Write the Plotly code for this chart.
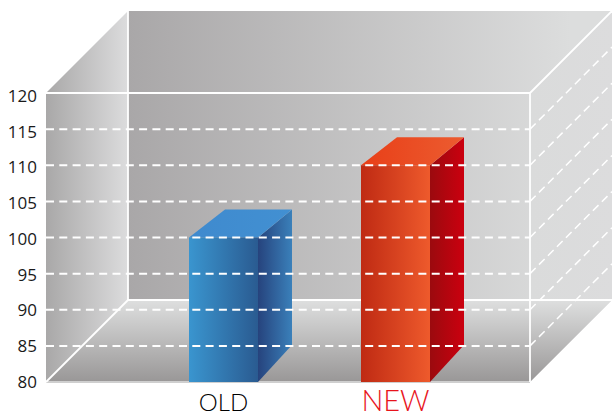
import plotly.graph_objects as go

# ---- chart data ----
CATEGORIES = ["OLD", "NEW"]
VALUES = [100, 110]
Y_TICKS = [80, 85, 90, 95, 100, 105, 110, 115, 120]
CATEGORY_COLORS = ["#000000", "#e8141c"]
CATEGORY_SIZES = [24, 29]

# ---- gradients per bar: front, side, top ----
FRONT_GRAD = [("#3a95cf", "#2a5b91"), ("#bf2a13", "#ee5a2c")]
SIDE_GRAD = [("#26437d", "#3a80ba"), ("#9b0a0e", "#cb000f")]
TOP_GRAD = [("#3f8ace", "#4290d2"), ("#e83f18", "#ec5c30")]

# ---- layout of the drawing (pixels in the 612x418 page) ----
W, H = 612, 418
L, R, T, B = 46, 530, 93, 382      # front frame
LABEL_T, LABEL_B = 96, 382         # where the y tick labels sit
DEPTH_X, DEPTH_Y = 82, 82          # room depth
BAR_W = 69
CAT_STEP = 172
CAT0 = 223.5
BAR_DX, BAR_DY_TOP, BAR_DY_FOOT, BAR_TOP_INSET = 34, 28, 37, 36
BACK_GRAD_STOP = 570

Y_MIN, Y_MAX = Y_TICKS[0], Y_TICKS[-1]
UX = 1 / CAT_STEP                  # axis units per pixel
UY = (Y_MAX - Y_MIN) / (B - T)

X0 = -(CAT0 - L) * UX
X1 = (R - CAT0) * UX
DX = DEPTH_X * UX
DY = DEPTH_Y * UY

# full-page ranges for the drawing axes (same scale as the frame axes)
PAGE_X = [-CAT0 * UX, (W - CAT0) * UX]
PAGE_Y = [Y_MIN - (H - B) * UY, Y_MAX + T * UY]

fig = go.Figure()


def poly(xs, ys, c0, c1, kind="horizontal", start=None, stop=None):
    g = dict(type=kind, colorscale=[[0, c0], [1, c1]])
    if start is not None:
        g["start"], g["stop"] = start, stop
    fig.add_trace(go.Scatter(
        x=list(xs) + [xs[0]], y=list(ys) + [ys[0]], mode="lines", fill="toself",
        fillgradient=g, line=dict(width=0),
        hoverinfo="skip", showlegend=False))


def line(xs, ys, color="#ffffff", width=1.8, dash="solid"):
    fig.add_trace(go.Scatter(
        x=xs, y=ys, mode="lines", line=dict(color=color, width=width, dash=dash),
        hoverinfo="skip", showlegend=False))


# back wall
poly([X0 + DX, X1 + DX, X1 + DX, X0 + DX],
     [Y_MIN + DY, Y_MIN + DY, Y_MAX + DY, Y_MAX + DY], "#a9a7a8", "#dcdddd",
     start=X0 + DX, stop=(BACK_GRAD_STOP - CAT0) * UX)
# left wall
poly([X0, X0 + DX, X0 + DX, X0], [Y_MAX, Y_MAX + DY, Y_MIN + DY, Y_MIN], "#a9a8a8", "#dcdcdd")
# right wall
poly([X1, X1 + DX, X1 + DX, X1], [Y_MAX, Y_MAX + DY, Y_MIN + DY, Y_MIN], "#dadbdb", "#dcdcdd")
# floor
poly([X0, X0 + DX, X1 + DX, X1], [Y_MIN, Y_MIN + DY, Y_MIN + DY, Y_MIN],
     "#999797", "#dedfdf", kind="vertical", start=Y_MIN, stop=Y_MIN + DY)

# room edges
line([X0, X1], [Y_MIN, Y_MIN], color="#cfcfcf")
line([X0, X0 + DX], [Y_MIN, Y_MIN + DY])
line([X0 + DX, X0 + DX], [Y_MIN + DY, Y_MAX + DY])
line([X0 + DX, X1 + DX], [Y_MIN + DY, Y_MIN + DY])
line([X0, X1], [Y_MAX, Y_MAX])
line([X1, X1], [Y_MAX, Y_MIN])
line([X1, X1 + DX], [Y_MAX, Y_MAX + DY])

# bars
for i, v in enumerate(VALUES):
    x0 = i - BAR_W / 2 * UX
    x1 = i + BAR_W / 2 * UX
    dx = BAR_DX * UX
    inset = BAR_TOP_INSET * UX
    top = v + BAR_DY_TOP * UY
    foot = Y_MIN + BAR_DY_FOOT * UY
    poly([x1, x1 + dx, x1 + dx, x1], [Y_MIN, foot, top, v], *SIDE_GRAD[i])
    poly([x0, x0 + inset, x1 + dx, x1], [v, top, top, v], *TOP_GRAD[i])
    poly([x0, x1, x1, x0], [Y_MIN, Y_MIN, v, v], *FRONT_GRAD[i])

# dashed grid lines across the front and up the right wall
for t in Y_TICKS[1:-1]:
    line([X0, X1], [t, t], width=2, dash="8px,5.3px")
    line([X1, X1 + DX], [t, t + DY], width=1.5, dash="8px,4.7px")

# invisible trace that carries the frame axes with the real tick labels
fig.add_trace(go.Scatter(x=[0, 1], y=VALUES, xaxis="x2", yaxis="y2", mode="markers",
                         marker=dict(opacity=0, size=1), hoverinfo="skip", showlegend=False))

ticktext = [
    f'<span style="color:{c};font-size:{s}px">{n}</span>'
    for n, c, s in zip(CATEGORIES, CATEGORY_COLORS, CATEGORY_SIZES)
]

fig.update_layout(
    width=W, height=H, autosize=False,
    margin=dict(l=0, r=0, t=0, b=0, pad=0),
    paper_bgcolor="#ffffff", plot_bgcolor="rgba(0,0,0,0)",
    showlegend=False,
    font=dict(family="Open Sans, Noto Sans, sans-serif", color="#1a1a1a"),
    xaxis=dict(domain=[0, 1], range=PAGE_X, visible=False),
    yaxis=dict(domain=[0, 1], range=PAGE_Y, visible=False),
    xaxis2=dict(domain=[L / W, (R) / W], range=[X0, X1], anchor="y2", tickmode="array",
                tickvals=list(range(len(CATEGORIES))), ticktext=ticktext,
                showgrid=False, zeroline=False, showline=False, ticks="",
                automargin=False, ticklabelstandoff=16,
                tickfont=dict(family="Lato, Open Sans, sans-serif", weight=300)),
    yaxis2=dict(domain=[(H - LABEL_B) / H, (H - LABEL_T) / H], range=[Y_MIN, Y_MAX], anchor="x2",
                tickmode="array", tickvals=Y_TICKS,
                showgrid=False, zeroline=False, showline=False, ticks="",
                automargin=False, tickfont=dict(size=17), ticklabelstandoff=8),
)

fig.write_html("out.html", config={"displayModeBar": False},
               post_script="document.body.style.margin='0';document.body.style.overflow='hidden';")
